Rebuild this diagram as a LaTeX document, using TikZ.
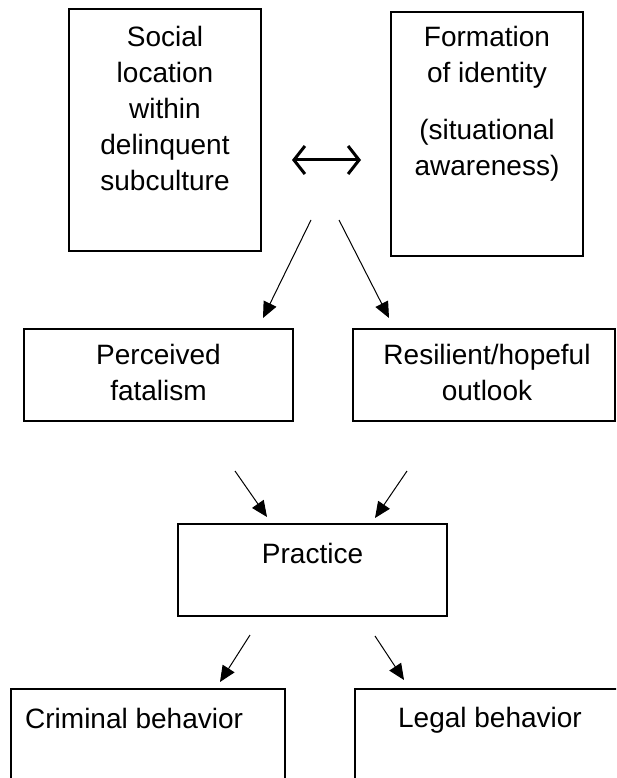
\documentclass[tikz,border=0pt]{standalone}
\usepackage{fontspec}
\setmainfont{Liberation Sans}
\usetikzlibrary{arrows.meta}
\usetikzlibrary{positioning}
\tikzset{
	box/.style = {draw, line width=2pt, outer sep=0pt, inner sep=0pt},
	txt/.style = {inner sep=0pt, align=center, font=\fontsize{28}{36}\selectfont},
	link/.style = {line width=1pt, -{Triangle[length=16pt,width=14pt]}},
	twoway/.style = {line width=3pt, {Straight Barb[length=11pt,width=28pt]}-{Straight Barb[length=11pt,width=28pt]}}
}

\begin{document}
\begin{tikzpicture}[x=1pt, y=-1pt]
	\clip (0,0) rectangle (616,778);
	% boxes
	\node (social) [box, minimum width=192pt, minimum height=242pt] at (165,130) {};
	\node (identity) [box, minimum width=192pt, minimum height=244pt] at (487,134) {};
	\node (fatalism) [box, minimum width=269pt, minimum height=92pt] at (158.5,375) {};
	\node (outlook) [box, minimum width=262pt, minimum height=92pt] at (484,375) {};
	\node (practice) [box, minimum width=269pt, minimum height=92pt] at (312.5,570) {};
	\node (criminal) [box, minimum width=274pt, minimum height=120pt] at (148,749) {};
	\node (legal) [box, minimum width=270pt, minimum height=120pt] at (490,749) {};
	% texts
	\node (socialtxt) [txt, below=17pt of social.north] {Social\\location\\within\\delinquent\\subculture};
	\node (identitytxt) [txt, below=14.5pt of identity.north] {Formation\\of identity\\[21pt](situational\\awareness)};
	\node (fatalismtxt) [txt, below=15pt of fatalism.north] {Perceived\\fatalism};
	\node (outlooktxt) [txt, below=15pt of outlook.north, xshift=3pt] {Resilient/hopeful\\outlook};
	\node (practicetxt) [txt, below=19pt of practice.north] {Practice};
	\node (criminaltxt) [txt, below right=19pt and 14pt of criminal.north west] {Criminal behavior};
	\node (legaltxt) [txt, below=18pt of legal.north] {Legal behavior};
	% arrow ends
	\coordinate (mutualw) at (292,160);
	\coordinate (mutuale) at (361,160);
	\coordinate (splitl) at (311,220);
	\coordinate (splitr) at (339,220);
	\coordinate (tofatal) at (263,318);
	\coordinate (tohope) at (389,318);
	\coordinate (fromfatal) at (235,471);
	\coordinate (fromhope) at (407,471);
	\coordinate (inl) at (267,517);
	\coordinate (inr) at (375,518);
	\coordinate (outl) at (250,635);
	\coordinate (outr) at (375,636);
	\coordinate (tocrime) at (220,682);
	\coordinate (tolegal) at (404,680);
	% arrows
	\draw[twoway] (mutualw) -- (mutuale);
	\draw[link] (splitl) -- (tofatal);
	\draw[link] (splitr) -- (tohope);
	\draw[link] (fromfatal) -- (inl);
	\draw[link] (fromhope) -- (inr);
	\draw[link] (outl) -- (tocrime);
	\draw[link] (outr) -- (tolegal);
\end{tikzpicture}
\end{document}
